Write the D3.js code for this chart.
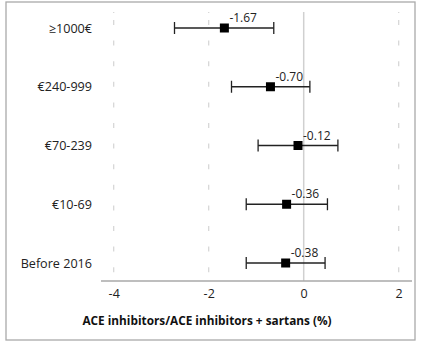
<!DOCTYPE html>
<html><head><meta charset="utf-8">
<script src="https://cdn.jsdelivr.net/npm/d3@7"></script>
<style>body{margin:0;background:#fff;}svg{display:block;font-family:"Open Sans","Noto Sans",sans-serif;}</style>
</head><body>
<script>
const categories = ["≥1000€", "€240-999", "€70-239", "€10-69", "Before 2016"];
const estimates = [-1.67, -0.70, -0.12, -0.36, -0.38];
const lower = [-2.72, -1.52, -0.96, -1.21, -1.21];
const upper = [-0.63, 0.13, 0.72, 0.50, 0.45];
const labels = ["-1.67", "-0.70", "-0.12", "-0.36", "-0.38"];
const xTicks = [-4, -2, 0, 2];
const xTitle = "ACE inhibitors/ACE inhibitors + sartans (%)";

const W = 423, H = 349;
const svg = d3.select("body").append("svg").attr("width", W).attr("height", H);

svg.append("rect").attr("x", 6).attr("y", 2).attr("width", 409).attr("height", 338)
  .attr("fill", "#fff").attr("stroke", "#aaa").attr("stroke-width", 1.3);

const x = d3.scaleLinear().domain([-4, 2]).range([113.7, 398.7]);
const y = d3.scalePoint().domain(categories).range([28, 263]);
const axisY = 281, topY = 12;

// grid lines
xTicks.forEach(t => {
  if (t === 0) {
    svg.append("line").attr("x1", x(t)).attr("x2", x(t)).attr("y1", topY).attr("y2", axisY)
      .attr("stroke", "#d0d0d0").attr("stroke-width", 1.5);
  } else {
    svg.append("line").attr("x1", x(t)).attr("x2", x(t)).attr("y1", 20).attr("y2", axisY)
      .attr("stroke", "#d4d4d4").attr("stroke-width", 1.2).attr("stroke-dasharray", "5,15.6");
    svg.append("line").attr("x1", x(t)).attr("x2", x(t)).attr("y1", topY).attr("y2", topY + 1)
      .attr("stroke", "#d4d4d4").attr("stroke-width", 1.2);
  }
});

// x axis
const xAxis = d3.axisBottom(x).tickValues(xTicks).tickSize(0).tickPadding(8).tickFormat(d3.format("d"));
const gx = svg.append("g").attr("transform", `translate(0,${axisY})`).call(xAxis);
gx.select(".domain").remove();
gx.selectAll("text").attr("font-size", 12.5).attr("fill", "#222")
  .attr("font-family", '"Open Sans","Noto Sans",sans-serif')
  .text(d => d < 0 ? "-" + Math.abs(d) : d);
svg.append("line").attr("x1", 101).attr("x2", 412).attr("y1", axisY).attr("y2", axisY)
  .attr("stroke", "#a8a8a8").attr("stroke-width", 1.5);

// y labels
const yAxis = d3.axisLeft(y).tickSize(0).tickPadding(0);
const gy = svg.append("g").attr("transform", "translate(92,0)").call(yAxis);
gy.select(".domain").remove();
gy.selectAll("text").attr("font-size", 12.6).attr("fill", "#222")
  .attr("font-family", '"Open Sans","Noto Sans",sans-serif');

// error bars
const rows = categories.map((c, i) => ({c, e: estimates[i], lo: lower[i], hi: upper[i], lab: labels[i]}));
const g = svg.append("g");
rows.forEach(d => {
  const yy = y(d.c);
  g.append("line").attr("x1", x(d.lo)).attr("x2", x(d.hi)).attr("y1", yy).attr("y2", yy)
    .attr("stroke", "#222").attr("stroke-width", 1.3);
  [d.lo, d.hi].forEach(v => g.append("line").attr("x1", x(v)).attr("x2", x(v))
    .attr("y1", yy - 6).attr("y2", yy + 6).attr("stroke", "#222").attr("stroke-width", 1.3));
  g.append("rect").attr("x", x(d.e) - 4.5).attr("y", yy - 4.5).attr("width", 9).attr("height", 9)
    .attr("fill", "#000");
  g.append("text").attr("x", x(d.e) + 5).attr("y", yy - 6).attr("font-size", 12)
    .attr("fill", "#222").text(d.lab);
});

svg.append("text").attr("x", 207).attr("y", 325).attr("text-anchor", "middle")
  .attr("font-size", 11.8).attr("font-weight", "bold").attr("fill", "#111").text(xTitle);
</script>
</body></html>
